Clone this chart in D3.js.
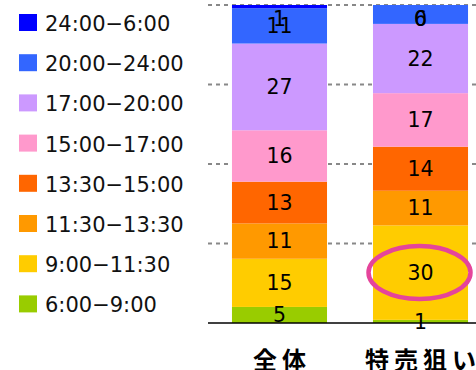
<!DOCTYPE html>
<html>
<head>
<meta charset="utf-8">
<script src="https://cdn.jsdelivr.net/npm/d3@7"></script>
<style>
  html, body { margin: 0; padding: 0; background: #fff; }
  svg { display: block; }
</style>
</head>
<body>
<svg id="chart" width="476" height="370"></svg>
<script>
// Categories (bars)
const categories = ["全体", "特売狙い"];

// Time slots, bottom of the stack first
const slots = ["6:00−9:00", "9:00−11:30", "11:30−13:30", "13:30−15:00",
               "15:00−17:00", "17:00−20:00", "20:00−24:00", "24:00−6:00"];
const slotColors = ["#99cc00", "#ffcc00", "#ff9900", "#ff6600",
                    "#ff99cc", "#cc99ff", "#3366ff", "#0000ff"];

// Share (%) per slot, one value per category
const s0600 = [5, 1];
const s0900 = [15, 30];
const s1130 = [11, 11];
const s1330 = [13, 14];
const s1500 = [16, 17];
const s1700 = [27, 22];
const s2000 = [11, 6];
const s2400 = [1, 0];

// Grid levels (percent of the column)
const gridTicks = [0.25, 0.5, 0.75, 1];

const seriesValues = [s0600, s0900, s1130, s1330, s1500, s1700, s2000, s2400];
const rows = categories.map((c, i) => {
  const r = { cat: c };
  slots.forEach((s, k) => { r[s] = seriesValues[k][i]; });
  return r;
});

const svg = d3.select("#chart");

const x = d3.scaleBand()
  .domain(categories)
  .range([208, 492])
  .paddingInner(0.326)
  .paddingOuter(0.17);

const y = d3.scaleLinear().domain([0, 1]).range([323, 5]);

const stack = d3.stack().keys(slots).offset(d3.stackOffsetExpand);
const layers = stack(rows);

// Dashed grid lines
svg.append("g")
  .selectAll("line")
  .data(gridTicks)
  .join("line")
  .attr("x1", 208).attr("x2", 476)
  .attr("y1", d => y(d)).attr("y2", d => y(d))
  .attr("stroke", "#888")
  .attr("stroke-width", 2)
  .attr("stroke-dasharray", "4,4");

// Stacked bars
const layerG = svg.append("g")
  .selectAll("g")
  .data(layers)
  .join("g")
  .attr("fill", (d, i) => slotColors[i]);

layerG.selectAll("rect")
  .data(d => d)
  .join("rect")
  .attr("x", d => x(d.data.cat))
  .attr("width", x.bandwidth())
  .attr("y", d => y(d[1]))
  .attr("height", d => y(d[0]) - y(d[1]));

// Value labels
const labelY = d => Math.max((y(d[0]) + y(d[1])) / 2, y(1) + 13.5);
const labels = [];
layers.forEach((layer, i) => {
  layer.forEach((d, j) => {
    labels.push({ cx: x(d.data.cat) + x.bandwidth() / 2, cy: labelY(d), v: seriesValues[i][j] });
  });
});
svg.append("g")
  .selectAll("text")
  .data(labels)
  .join("text")
  .attr("x", d => d.cx)
  .attr("y", d => d.cy)
  .attr("dy", "0.36em")
  .attr("text-anchor", "middle")
  .attr("font-family", "DejaVu Sans")
  .attr("font-size", 20.5)
  .attr("fill", "#000")
  .text(d => d.v);

// Baseline
svg.append("line")
  .attr("x1", 208).attr("x2", 476)
  .attr("y1", y(0)).attr("y2", y(0))
  .attr("stroke", "#000")
  .attr("stroke-width", 1.5);

// Category labels
svg.append("g")
  .selectAll("text")
  .data(categories)
  .join("text")
  .attr("x", d => x(d) + x.bandwidth() / 2 + 2.5)
  .attr("y", 369)
  .attr("text-anchor", "middle")
  .attr("font-family", "Noto Sans CJK JP")
  .attr("font-weight", "bold")
  .attr("font-size", 24)
  .attr("letter-spacing", 5)
  .attr("fill", "#000")
  .text(d => d);

// Highlight ring around the 9:00−11:30 share of 特売狙い
const hl = layers[1][1];
svg.append("ellipse")
  .attr("cx", x(hl.data.cat) + x.bandwidth() / 2 - 1)
  .attr("cy", labelY(hl))
  .attr("rx", 51)
  .attr("ry", 26.5)
  .attr("fill", "none")
  .attr("stroke", "#e5449b")
  .attr("stroke-width", 4.5);

// Legend, top slot first
const legendItems = slots.map((s, i) => ({ s, c: slotColors[i] })).reverse();
const lg = svg.append("g")
  .selectAll("g")
  .data(legendItems)
  .join("g")
  .attr("transform", (d, i) => `translate(19, ${22.5 + i * 40.2})`);
lg.append("rect")
  .attr("x", 0).attr("y", -8.5)
  .attr("width", 18).attr("height", 17)
  .attr("fill", d => d.c);
lg.append("text")
  .attr("x", 26)
  .attr("y", 1)
  .attr("dy", "0.36em")
  .attr("font-family", "DejaVu Sans")
  .attr("font-size", 21)
  .attr("fill", "#111")
  .text(d => d.s);
</script>
</body>
</html>
